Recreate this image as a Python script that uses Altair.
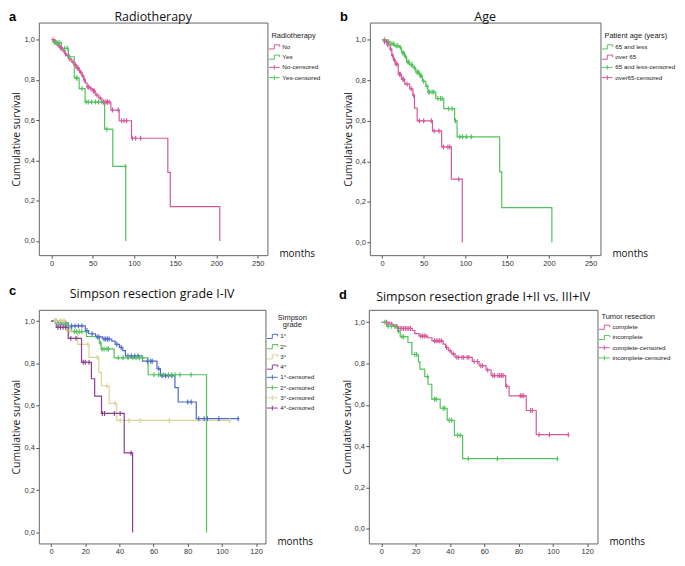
import altair as alt
import pandas as pd

PINK = "#d6589c"
GREEN = "#52c35c"
BLUE = "#4d6bc6"
BEIGE = "#dcd296"
PURPLE = "#8d3d8f"

# ---------------- Panel a: Radiotherapy ----------------
a_names = ["No", "Yes"]
a_cens_names = ["No-censored", "Yes-censored"]
a_colors = [PINK, GREEN]
a_no_t = [0, 3, 6, 8, 10, 13, 16, 18, 21, 24, 27, 30, 33, 35, 37, 39, 41, 43, 47, 50, 53, 57, 61, 72, 82, 97, 141, 144, 204]
a_no_s = [1.0, .99, .98, .97, .96, .945, .93, .92, .905, .89, .875, .86, .847, .835, .82, .80, .785, .765, .755, .745, .725, .71, .69, .65, .597, .51, .34, .17, 0.0]
a_yes_t = [0, 2, 12, 20.5, 27.6, 33.5, 40.7, 64.4, 74.3, 90]
a_yes_s = [1.0, .985, .957, .915, .81, .757, .69, .555, .37, 0.0]
a_no_ct = [2, 4, 5, 7, 9, 11, 12, 15, 17, 20, 22, 26, 29, 31, 32, 34, 36, 38, 40, 44, 45, 48, 51, 52, 55, 59, 63, 65, 67, 68, 70, 74, 81, 85, 88, 91, 98, 102, 108]
a_no_cs = [1.0, .99, .99, .98, .97, .96, .96, .945, .93, .92, .905, .89, .875, .86, .86, .847, .835, .82, .80, .765, .765, .755, .745, .745, .725, .71, .69, .69, .69, .69, .69, .65, .65, .597, .597, .597, .51, .51, .51]
a_yes_ct = [4, 6, 8, 10, 16, 19, 22, 30, 31, 37, 42, 44.6, 48.6, 53.3, 57, 61, 67, 89.5]
a_yes_cs = [.985, .985, .985, .985, .957, .957, .915, .81, .81, .757, .69, .69, .69, .69, .69, .69, .555, .37]

# ---------------- Panel b: Age ----------------
b_names = ["65 and less", "over 65"]
b_cens_names = ["65 and less-censored", "over65-censored"]
b_colors = [GREEN, PINK]
b_le_t = [0, 5, 10, 15, 21, 23.5, 27, 29.5, 33, 37, 40.5, 45, 48.5, 52.5, 55, 64.5, 74, 87, 90, 141, 143.5, 203.5]
b_le_s = [1.0, .99, .98, .97, .962, .935, .918, .89, .877, .862, .84, .822, .795, .77, .742, .71, .66, .60, .521, .348, .172, 0.0]
b_ov_t = [0, 5, 8, 9.8, 11.8, 13.7, 16, 19.5, 23.4, 27.3, 33.2, 37.1, 39, 42.2, 60.5, 71.5, 83.2, 96.2]
b_ov_s = [1.0, .99, .975, .954, .923, .90, .88, .83, .805, .781, .758, .726, .663, .60, .55, .471, .312, 0.0]
b_le_ct = [3, 6, 8, 12, 14, 17, 19, 22, 25, 26, 28, 31, 32, 35, 36, 39, 42, 43, 44, 46, 47, 50, 54, 56, 57, 60, 62, 67, 70, 72, 80, 84, 88, 93.3, 96.5, 101, 107]
b_le_cs = [1.0, .99, .99, .98, .98, .97, .97, .962, .935, .935, .918, .89, .89, .877, .877, .862, .84, .84, .84, .822, .822, .795, .77, .742, .742, .742, .742, .71, .71, .71, .66, .66, .60, .521, .521, .521, .521]
b_ov_ct = [3, 6, 7, 10.5, 12.5, 15, 17, 18, 21, 22, 25, 26, 30, 35, 38, 44.9, 50, 59.4, 62.5, 68.4, 73.5, 79, 81.3, 92]
b_ov_cs = [.99, .99, .975, .954, .923, .90, .88, .88, .83, .83, .805, .805, .781, .758, .726, .60, .60, .60, .55, .55, .471, .471, .471, .312]

# ---------------- Panel c: Simpson grade I-IV ----------------
c_names = ["1°", "2°", "3°", "4°"]
c_cens_names = ["1°-censored", "2°-censored", "3°-censored", "4°-censored"]
c_colors = [BLUE, GREEN, BEIGE, PURPLE]
c_g1_t = [0, 3, 10, 20, 22, 26, 30, 35.5, 37.5, 40, 42, 43.5, 53.5, 62, 64, 72.5, 74.4, 85, 109.5]
c_g1_s = [1.0, .992, .977, .955, .94, .925, .915, .905, .89, .875, .86, .835, .81, .775, .741, .685, .617, .538, .538]
c_g2_t = [0, 6, 10, 12, 20.7, 28.3, 29.3, 36.9, 56.8, 91]
c_g2_s = [1.0, .984, .968, .95, .927, .896, .868, .826, .746, 0.0]
c_g3_t = [0, 9, 15.6, 22.2, 27.9, 29.4, 34, 38.4, 104.4]
c_g3_s = [1.0, .953, .89, .828, .757, .694, .611, .530, .530]
c_g4_t = [0, 3, 10, 17.8, 23.6, 25.5, 29.5, 42.8, 47.7]
c_g4_s = [1.0, .97, .918, .805, .727, .645, .563, .376, 0.0]
c_g1_ct = [2, 5, 6, 8, 12, 14, 16, 18, 21, 24, 27, 28, 31, 32, 33, 34, 38.5, 41, 45, 47, 49, 51, 56.4, 58.3, 59.2, 63, 65, 67, 68.7, 70.6, 80, 82, 86.4, 89.6, 91.5, 98.2, 109.5]
c_g1_cs = [1.0, .992, .992, .992, .977, .977, .977, .977, .955, .94, .925, .925, .915, .915, .915, .915, .89, .875, .835, .835, .835, .835, .81, .81, .81, .775, .741, .741, .741, .741, .617, .617, .538, .538, .538, .538, .538]
c_g2_ct = [3, 4.5, 7.5, 9, 13.7, 15, 16.5, 18, 28.8, 29.8, 31, 32.7, 33.6, 39.3, 42.1, 45, 47.8, 49.7, 51.6, 53.5, 60.2, 63, 65.9, 68.7, 70.6, 72.5, 75.4, 82]
c_g2_cs = [1.0, .984, .984, .984, .95, .95, .95, .95, .896, .868, .868, .868, .868, .826, .826, .826, .826, .826, .826, .826, .746, .746, .746, .746, .746, .746, .746, .746]
c_g3_ct = [2, 3, 5, 6, 7, 8, 10.8, 21.5, 27, 32.7, 37.4, 40.5, 45.6, 52.2, 69.3, 104.4]
c_g3_cs = [1.0, 1.0, 1.0, 1.0, 1.0, 1.0, .953, .89, .828, .694, .611, .530, .530, .530, .530, .530]
c_g4_ct = [4, 5.5, 7, 8.5, 11.5, 14.6, 18.8, 20, 22.2, 30, 31.3, 37, 40.4, 46.8]
c_g4_cs = [.97, .97, .97, .97, .918, .918, .805, .805, .805, .563, .563, .563, .563, .376]

# ---------------- Panel d: Simpson I+II vs III+IV ----------------
d_names = ["complete", "incomplete"]
d_cens_names = ["complete-censored", "incomplete-censored"]
d_colors = [PINK, GREEN]
d_co_t = [0, 5, 7, 10, 18, 19.5, 22, 27, 29.5, 36, 37.5, 39, 41, 43, 53, 57, 61, 64, 72.5, 74.5, 84.5, 90.3, 109]
d_co_s = [1.0, .99, .98, .97, .96, .945, .933, .925, .91, .894, .878, .862, .847, .83, .81, .79, .769, .742, .69, .644, .573, .456, .456]
d_in_t = [0, 3, 9.4, 11, 15.5, 17.8, 21.6, 22.5, 25.3, 27.2, 29.4, 34.3, 38.4, 42.6, 47.4, 102.6]
d_in_s = [1.0, .98, .956, .93, .902, .844, .808, .773, .737, .70, .628, .584, .526, .453, .34, .34]
d_co_ct = [3, 4, 6, 8, 9, 11, 12, 13, 14, 15, 16, 17, 23, 24, 25, 26, 31, 32, 33, 34, 35, 38, 40, 42, 44, 45, 47, 48, 50, 51, 54, 56, 58, 59, 62, 65, 66, 68, 69, 70, 71, 73, 81, 82, 83, 87, 88, 92, 98, 109]
d_co_cs = [1.0, .99, .99, .98, .98, .97, .97, .97, .97, .97, .97, .97, .933, .933, .933, .933, .91, .91, .91, .91, .91, .878, .862, .847, .83, .83, .83, .83, .83, .83, .81, .81, .79, .79, .769, .742, .742, .742, .742, .742, .742, .69, .644, .644, .644, .573, .573, .456, .456, .456]
d_in_ct = [2, 4, 6, 8, 10, 12, 13, 19.5, 20.5, 27, 31, 32, 36, 37, 39.5, 41, 44.5, 46, 50.7, 67.6, 102.6]
d_in_cs = [1.0, .98, .98, .98, .956, .93, .93, .844, .844, .737, .628, .628, .584, .584, .526, .526, .453, .453, .34, .34, .34]

Y_TICKS = [0.0, 0.2, 0.4, 0.6, 0.8, 1.0]

STEP = "M-2,0.7H-0.2V-0.7H1.6V0"
CROSS = "M-2,0H1.6M-0.2,-0.8V0.8"
TICK = "M0,-1V1M-0.6,0H0.6"

LABEL_FONT = "Liberation Sans"
TITLE_FONT = "Open Sans"


def make_panel(letter, title, title_base, letter_y, leg_title, names, cens_names, colors,
               curves, censors, xdom, xvals, ydom, w, h, leg_y, leg_title_pad,
               multi_title=False):
    line_rows = []
    for nm, (ts, ss) in zip(names, curves):
        for t, s in zip(ts, ss):
            line_rows.append({"t": t, "s": s, "g": nm})
    cens_rows = []
    for nm, (ts, ss) in zip(cens_names, censors):
        for t, s in zip(ts, ss):
            cens_rows.append({"t": t, "s": s, "g": nm})
    line_df = pd.DataFrame(line_rows)
    cens_df = pd.DataFrame(cens_rows)

    # legend scales (color + shape share this domain)
    dom = names + cens_names
    cscale = alt.Scale(domain=dom, range=colors + colors)
    sscale = alt.Scale(domain=dom, range=[STEP] * len(names) + [CROSS] * len(names))
    # drawing scale for the strokes (different domain order so it is not merged with the legend)
    sdom = cens_names + names
    strscale = alt.Scale(domain=sdom, range=colors + colors)

    xs = alt.Scale(domain=xdom, nice=False, zero=False)
    ys = alt.Scale(domain=ydom, nice=False, zero=False)

    xaxis = alt.Axis(values=xvals, title=None, grid=False, domain=False, tickSize=3,
                     tickColor="#555", labelFont=LABEL_FONT, labelFontSize=7.5,
                     labelColor="#333", labelPadding=1.5, labelFlush=False)
    yaxis = alt.Axis(values=Y_TICKS, labelExpr="replace(format(datum.value, '.1f'), '.', ',')",
                     title="Cumulative survival", titleFont=TITLE_FONT, titleFontSize=10.5,
                     titleFontWeight="normal", titleColor="#222", titlePadding=2,
                     grid=False, domain=False, tickSize=3, tickColor="#555",
                     labelFont=LABEL_FONT, labelFontSize=7.5, labelColor="#333",
                     labelPadding=1.5)

    X = alt.X("t:Q", scale=xs, axis=xaxis)
    Y = alt.Y("s:Q", scale=ys, axis=yaxis)

    leg_kwargs = dict(
        title=leg_title, orient="none", legendX=w + 4, legendY=leg_y,
        titleFont=LABEL_FONT, titleFontSize=7.5, titleFontWeight="normal",
        titleColor="#222", titlePadding=leg_title_pad,
        labelFont=LABEL_FONT, labelFontSize=6.3, labelColor="#222", labelOffset=4,
        symbolSize=36, symbolStrokeWidth=1, symbolOpacity=1, rowPadding=1.3, padding=0,
    )
    if multi_title:
        leg_kwargs.update(titleAnchor="middle", titleAlign="center", titleLineHeight=7.7)

    lines = alt.Chart(line_df).mark_line(interpolate="step-after", strokeWidth=1.2).encode(
        x=X, y=Y, stroke=alt.Stroke("g:N", scale=strscale, legend=None))
    cens = alt.Chart(cens_df).mark_point(shape=TICK, size=25, strokeWidth=1.1, filled=False,
                                         opacity=1).encode(
        x=X, y=Y, stroke=alt.Stroke("g:N", scale=strscale, legend=None))
    legl = alt.Chart(cens_df).mark_point(opacity=0, filled=False).encode(
        x=X, y=Y,
        color=alt.Color("g:N", scale=cscale, legend=alt.Legend(**leg_kwargs)),
        shape=alt.Shape("g:N", scale=sscale, legend=alt.Legend(**leg_kwargs)))
    letter_t = alt.Chart(pd.DataFrame({"l": [letter]})).mark_text(
        font=LABEL_FONT, fontSize=13, fontWeight="bold", align="left", baseline="middle",
        color="black").encode(text="l:N", x=alt.value(-30), y=alt.value(letter_y))
    title_t = alt.Chart(pd.DataFrame({"tt": [title]})).mark_text(
        font=TITLE_FONT, fontSize=12.5, align="center", baseline="alphabetic",
        color="#111").encode(text="tt:N", x=alt.value(w / 2), y=alt.value(title_base))
    months_t = alt.Chart(pd.DataFrame({"m": ["months"]})).mark_text(
        font=TITLE_FONT, fontSize=10, align="left", baseline="middle", color="#111").encode(
        text="m:N", x=alt.value(w + 12), y=alt.value(h - 1))

    return alt.layer(lines, cens, legl, letter_t, title_t, months_t).properties(
        width=w, height=h)


pa = make_panel("a", "Radiotherapy", -2, -6, "Radiotherapy", a_names, a_cens_names, a_colors,
                [(a_no_t, a_no_s), (a_yes_t, a_yes_s)],
                [(a_no_ct, a_no_cs), (a_yes_ct, a_yes_cs)],
                [-15.4, 261.8], [0, 50, 100, 150, 200, 250], [-0.071, 1.085], 230, 234, 9.5, 4)
pb = make_panel("b", "Age", -2, -6, "Patient age (years)", b_names, b_cens_names, b_colors,
                [(b_le_t, b_le_s), (b_ov_t, b_ov_s)],
                [(b_le_ct, b_le_cs), (b_ov_ct, b_ov_cs)],
                [-14.5, 261.7], [0, 50, 100, 150, 200, 250], [-0.063, 1.085], 232, 234, 9.5, 4)
pc = make_panel("c", "Simpson resection grade I-IV", -12, -19, ["Simpson", "grade"], c_names,
                c_cens_names, c_colors,
                [(c_g1_t, c_g1_s), (c_g2_t, c_g2_s), (c_g3_t, c_g3_s), (c_g4_t, c_g4_s)],
                [(c_g1_ct, c_g1_cs), (c_g2_ct, c_g2_cs), (c_g3_ct, c_g3_cs), (c_g4_ct, c_g4_cs)],
                [-7.2, 125.5], [0, 20, 40, 60, 80, 100, 120], [-0.052, 1.053], 228, 235, 4, 4,
                multi_title=True)
pd_ = make_panel("d", "Simpson resection grade I+II vs. III+IV", -8.5, -15, "Tumor resection",
                 d_names, d_cens_names, d_colors,
                 [(d_co_t, d_co_s), (d_in_t, d_in_s)],
                 [(d_co_ct, d_co_cs), (d_in_ct, d_in_cs)],
                 [-7.3, 126.0], [0, 20, 40, 60, 80, 100, 120], [-0.07, 1.06], 230, 235, 3.5, 3)

row1 = alt.hconcat(pa, pb, spacing=17).resolve_scale(
    color="independent", shape="independent", stroke="independent",
    x="independent", y="independent")
row2 = alt.hconcat(pc, pd_, spacing=22).resolve_scale(
    color="independent", shape="independent", stroke="independent",
    x="independent", y="independent")

chart = alt.vconcat(row1, row2, spacing=16).resolve_scale(
    color="independent", shape="independent", stroke="independent",
    x="independent", y="independent"
).properties(padding={"left": 0, "top": 0, "right": 0, "bottom": 0},
             background="white").configure_view(stroke="#666", strokeWidth=1)

chart.save("out.html", embed_options={"renderer": "svg", "actions": False})
